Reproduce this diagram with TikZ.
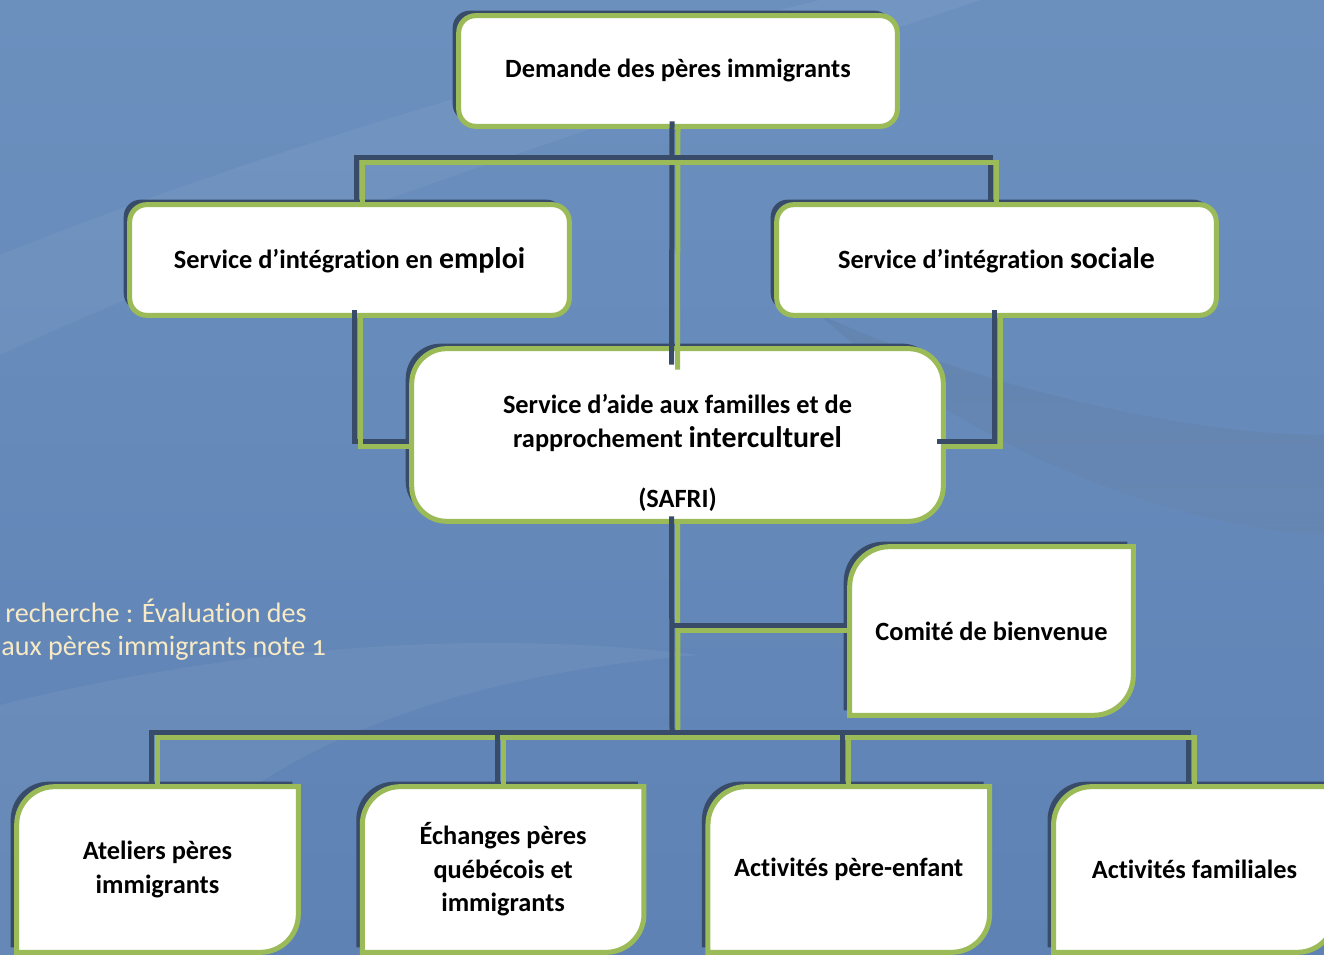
\documentclass[tikz,border=0pt]{standalone}
\usepackage{fontspec}
\setmainfont{Carlito}[Ligatures=NoCommon]
\newfontfamily\notefont[Numbers=OldStyle, Ligatures=NoCommon]{Carlito}
\usetikzlibrary{positioning}

\definecolor{leaf}{RGB}{155,187,89}
\definecolor{shade}{RGB}{56,76,106}
\definecolor{bgtop}{RGB}{108,144,190}
\definecolor{bgbottom}{RGB}{94,130,180}
\definecolor{cream}{RGB}{247,234,196}

\pgfdeclarelayer{back}
\pgfdeclarelayer{frames}
\pgfsetlayers{back,frames,main}

\tikzset{
  boxtext/.style={font=\bfseries\fontsize{15}{19}\selectfont, align=center, inner sep=0pt, text=black},
  boxsize/.style 2 args={minimum width=#1, minimum height=#2},
  boxframe/.style={draw=leaf, fill=white, line width=0.1cm},
  boxshadow/.style={fill=shade, transform canvas={shift={(-0.12cm,0.1cm)}}},
  link/.style={draw=leaf, line width=0.1cm},
  linkshadow/.style={draw=shade, line width=0.1cm, transform canvas={shift={(-0.12cm,0.1cm)}}},
  note/.style={font=\notefont\fontsize{16}{19}\selectfont, text=cream, inner sep=0pt, anchor=base west}
}

\newcommand{\bigword}[1]{{\fontsize{17}{19}\selectfont #1}}
% connector with its shadow
\newcommand{\link}[1]{\path[linkshadow] #1; \path[link] #1;}
% boxes: all corners rounded, or only top left and bottom right
\newcommand{\roundframe}[2]{%
  \path[boxshadow, rounded corners=#2] (#1.south west) rectangle (#1.north east);
  \path[boxframe, rounded corners=#2] (#1.south west) rectangle (#1.north east);}
\newcommand{\leafpath}[2]{(#1.south west) -- ([yshift=-#2]#1.north west)
  arc[start angle=180, end angle=90, radius=#2] -- (#1.north east)
  -- ([yshift=#2]#1.south east) arc[start angle=0, end angle=-90, radius=#2] -- cycle}
\newcommand{\leafframe}[2]{%
  \path[boxshadow] \leafpath{#1}{#2};
  \path[boxframe] \leafpath{#1}{#2};}

\begin{document}
\begin{tikzpicture}[x=0.02cm, y=0.02cm]
\useasboundingbox (0,0) rectangle (1324,955);

\begin{pgfonlayer}{back}
  \shade[top color=bgtop, bottom color=bgbottom] (0,0) rectangle (1324,955);
  \fill[white, opacity=0.05] (0,700) .. controls (300,820) and (600,900) .. (820,955)
    -- (980,955) .. controls (700,860) and (300,740) .. (0,600) -- cycle;
  \fill[shade, opacity=0.04] (820,640) .. controls (1000,560) and (1200,520) .. (1324,520)
    -- (1324,420) .. controls (1150,430) and (950,520) .. (820,640) -- cycle;
  \fill[white, opacity=0.05] (0,0) -- (0,250) .. controls (200,300) and (450,330) .. (700,300)
    .. controls (450,280) and (200,200) .. (100,0) -- cycle;
\end{pgfonlayer}

\node[boxtext, boxsize={8.76cm}{2.2cm}] (demande) at (678,884) {Demande des pères immigrants};
\node[boxtext, boxsize={8.78cm}{2.2cm}] (emploi) at (349.5,695) {Service d’intégration en \bigword{emploi}};
\node[boxtext, boxsize={8.78cm}{2.2cm}] (sociale) at (996.5,695) {Service d’intégration \bigword{sociale}};
\node[boxtext, boxsize={10.62cm}{3.44cm}] (safri) at (677.5,520)
  {\mbox{}\\[0.44cm]Service d’aide aux familles et de\\rapprochement \bigword{interculturel}\\[0.54cm](SAFRI)};
\node[boxtext, boxsize={5.66cm}{3.36cm}] (comite) at (991.5,324) {Comité de bienvenue};

\node[boxtext, boxsize={5.62cm}{3.3cm}] (ateliers) at (157.5,85.5) {Ateliers pères\\immigrants};
\node[boxtext, boxsize={5.62cm}{3.3cm}, right=1.28cm of ateliers] (echanges) {Échanges pères\\québécois et\\immigrants};
\node[boxtext, boxsize={5.62cm}{3.3cm}, right=1.28cm of echanges] (pere) {Activités père-enfant};
\node[boxtext, boxsize={5.62cm}{3.3cm}, right=1.28cm of pere] (familiales) {Activités familiales};

\node[note] (note1) at (5,332) {recherche : Évaluation des};
\node[note] (note2) at (1,299) {aux pères immigrants note 1};

\begin{pgfonlayer}{frames}
  \roundframe{demande}{0.34cm}
  \roundframe{emploi}{0.34cm}
  \roundframe{sociale}{0.34cm}
  \roundframe{safri}{0.7cm}
  \leafframe{comite}{0.8cm}
  \foreach \n in {ateliers,echanges,pere,familiales} {\leafframe{\n}{0.76cm}}
\end{pgfonlayer}

\coordinate (topbus) at (678,792);
\coordinate (sidebus) at (678,508);
\coordinate (lowbus) at (678,217);

\link{(demande.south) -- ([yshift=-0.42cm]safri.north)}
\link{([xshift=0.25cm]emploi.north) |- (topbus) -| (sociale.north)}
\link{([xshift=0.21cm]emploi.south) |- (safri.west |- sidebus)}
\link{([xshift=0.07cm]sociale.south) |- (safri.east |- sidebus)}
\link{(safri.south) -- (lowbus)}
\link{(safri.south |- comite.west) -- (comite.west)}
\link{(ateliers.north) |- (lowbus) -| (familiales.north)}
\link{(echanges.north) -- (echanges.north |- lowbus)}
\link{(pere.north) -- (pere.north |- lowbus)}
\end{tikzpicture}
\end{document}
